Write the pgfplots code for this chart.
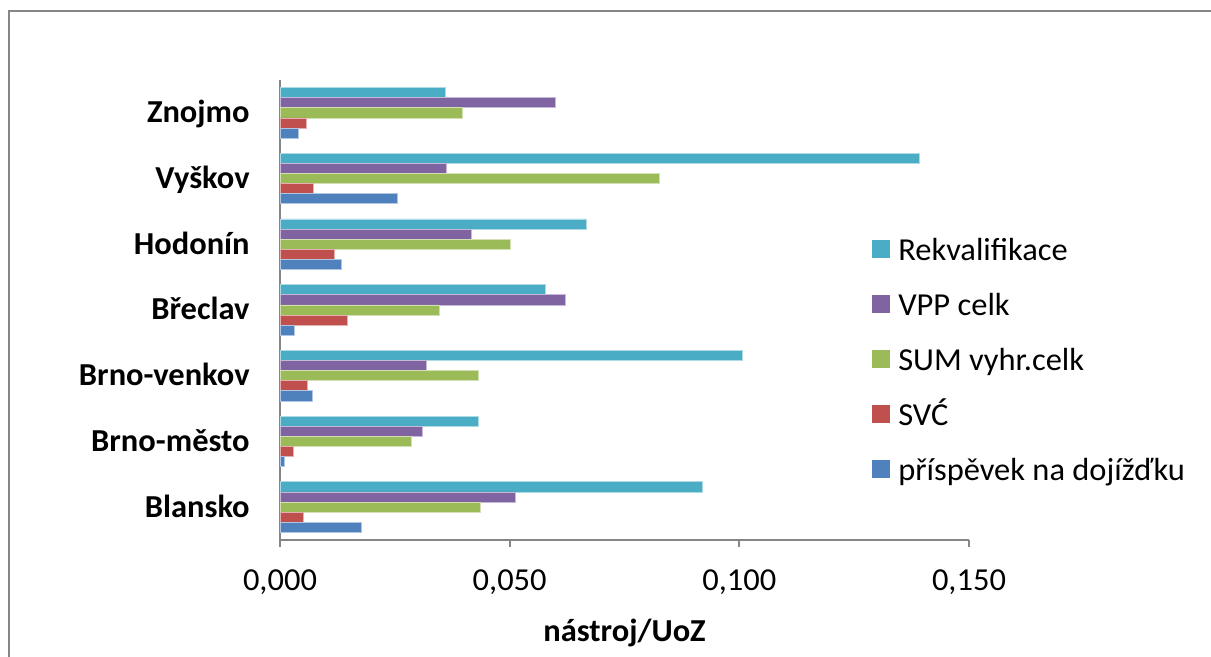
\documentclass[border=0pt]{standalone}
\usepackage{fontspec}
\setmainfont{Carlito}[FakeStretch=1.015]
\usepackage{pgfplots}
\usepackage{pgfplotstable}
\pgfplotsset{compat=1.18}
\definecolor{cRek}{HTML}{4BACC6}
\definecolor{cVPP}{HTML}{8064A2}
\definecolor{cSUM}{HTML}{9BBB59}
\definecolor{cSVC}{HTML}{C0504D}
\definecolor{cPri}{HTML}{4F81BD}
\definecolor{axgray}{HTML}{868686}
\pgfplotstableread{
y rek vpp sum svc pri
0 0.0920 0.0512 0.0436 0.0051 0.0178
1 0.0431 0.0309 0.0287 0.0030 0.0009
2 0.1006 0.0318 0.0433 0.0059 0.0071
3 0.0578 0.0621 0.0346 0.0147 0.0032
4 0.0666 0.0417 0.0502 0.0118 0.0133
5 0.1391 0.0362 0.0826 0.0073 0.0255
6 0.0359 0.0600 0.0397 0.0057 0.0039
}\data
\begin{document}
\begin{tikzpicture}[font=\fontsize{16pt}{19pt}\selectfont]
\useasboundingbox (0,0) rectangle (605.5pt,328.5pt);
\draw[axgray, line width=1pt] (605.5pt,323pt) -- (4.5pt,323pt) -- (4.5pt,0pt);
\begin{axis}[
  at={(140pt,58.5pt)}, anchor=south west,
  scale only axis, width=344.5pt, height=230pt,
  xbar, bar width=0.154,
  xmin=0, xmax=0.15, ymin=-0.5, ymax=6.5,
  axis x line*=bottom, axis y line*=left,
  axis line style={axgray, line width=0.9pt},
  every tick/.style={axgray, line width=0.9pt},
  tick align=outside,
  xtick={0,0.05,0.1,0.15},
  xticklabels={{0,000},{0,050},{0,100},{0,150}},
  xtick pos=bottom,
  major tick length=3.5pt,
  ytick={0,...,6},
  yticklabels={Blansko,Brno-město,Brno-venkov,Břeclav,Hodonín,Vyškov,Znojmo},
  ytick style={draw=none},
  minor ytick={-0.5,0.5,...,6.5},
  minor tick length=4pt,
  minor tick style={axgray, line width=0.9pt},
  yticklabel style={font=\fontsize{16pt}{19pt}\selectfont\bfseries, anchor=base east, inner sep=0pt, xshift=-11.5pt, yshift=-5pt},
  xticklabel style={inner sep=0pt, yshift=-11pt},
  xlabel={\bfseries nástroj/UoZ},
  xlabel style={inner sep=0pt, yshift=-12pt},
  legend style={at={(0.859,0.655)}, anchor=north west, draw=none, fill=none,
    inner sep=0pt, outer sep=0pt, row sep=13pt,
    nodes={inner sep=0pt, text height=11pt, text depth=3.5pt}},
  legend cell align=left,
  legend image code/.code={\fill[#1, draw=none] (0pt,-2.5pt) rectangle (9pt,6.5pt); \path (13pt,0pt);},
]
\addplot[fill=cRek, draw=cRek!45!white, line width=0.4pt, bar shift=0.308] table[x=rek, y=y] {\data};
\addlegendentry{Rekvalifikace}
\addplot[fill=cVPP, draw=cVPP!45!white, line width=0.4pt, bar shift=0.154] table[x=vpp, y=y] {\data};
\addlegendentry{VPP celk}
\addplot[fill=cSUM, draw=cSUM!45!white, line width=0.4pt, bar shift=0] table[x=sum, y=y] {\data};
\addlegendentry{SUM vyhr.celk}
\addplot[fill=cSVC, draw=cSVC!45!white, line width=0.4pt, bar shift=-0.154] table[x=svc, y=y] {\data};
\addlegendentry{SVĆ}
\addplot[fill=cPri, draw=cPri!45!white, line width=0.4pt, bar shift=-0.308] table[x=pri, y=y] {\data};
\addlegendentry{příspěvek na dojížďku}
\end{axis}
\end{tikzpicture}
\end{document}
